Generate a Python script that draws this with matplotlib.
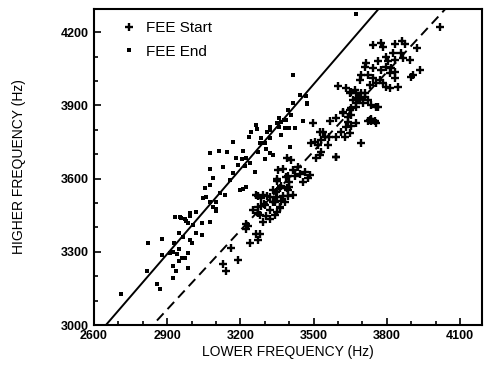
import matplotlib.pyplot as plt
import numpy as np

plt.rcParams['font.family'] = ['Liberation Sans', 'DejaVu Sans']

# FEE End (squares): lower frequency, higher frequency (Hz)
end_x = np.array([2713, 2822, 2877, 2816, 2859, 2870, 2931, 2955, 2993, 3020, 2976, 2986, 3006,
                  3041, 3077, 2949, 2965, 3020, 3041, 2993, 3000, 2927, 2922, 2911, 2881, 2949,
                  2940, 2959, 2986, 2972, 2949, 2922, 2936, 2986, 2922, 3102, 3075,
                  3266, 3268, 3320, 3348, 3380, 3382, 3236, 3170, 3286, 3279, 3300, 3307, 3273,
                  3320, 3300, 3077, 3111, 3146, 3211, 3184, 3205, 3225, 3238, 3191, 3219, 3130,
                  3075, 3259, 3170, 3157, 3088, 3075, 3057, 3059, 3046, 3116, 3136, 3225, 3211,
                  3102, 3088, 3102, 3020, 2993, 2952, 2972, 3198,
                  3416, 3443, 3468, 3473, 3416, 3395, 3409, 3386, 3359, 3368, 3457, 3422, 3398,
                  3357, 3320, 3308, 3320, 3368, 3402, 3288, 3245, 3672, 3474, 3334])
end_y = np.array([3126, 3335, 3351, 3221, 3168, 3146, 3444, 3437, 3448, 3465, 3428, 3417, 3410,
                  3419, 3421, 3378, 3362, 3376, 3369, 3348, 3337, 3335, 3300, 3294, 3287, 3310,
                  3290, 3277, 3297, 3273, 3262, 3242, 3221, 3236, 3194, 3474, 3505,
                  3820, 3802, 3813, 3826, 3840, 3806, 3772, 3748, 3765, 3745, 3745, 3720, 3710,
                  3703, 3679, 3707, 3714, 3710, 3714, 3683, 3680, 3683, 3663, 3656, 3650, 3649,
                  3638, 3628, 3622, 3594, 3601, 3574, 3560, 3523, 3520, 3542, 3533, 3567, 3556,
                  3505, 3482, 3469, 3465, 3458, 3441, 3436, 3553,
                  4024, 3943, 3939, 3908, 3911, 3881, 3861, 3840, 3850, 3830, 3837, 3806, 3806,
                  3810, 3799, 3790, 3765, 3780, 3731, 3745, 3790, 4273, 3904, 3697])

# FEE Start (pluses)
start_x = np.array([3140, 3127, 3191, 3160, 3241, 3273, 3266, 3280, 3222, 3232, 3222, 3293, 3320,
                    3306, 3350, 3361, 3273, 3286, 3295, 3273, 3293, 3308, 3345, 3350, 3365, 3365,
                    3391, 3400, 3395, 3350, 3333,
                    3375, 3386, 3400, 3395, 3416, 3375, 3416, 3436, 3423, 3443, 3463, 3477, 3484,
                    3457, 3389, 3409, 3525, 3511, 3532, 3518, 3491, 3507, 3532, 3559, 3593, 3545,
                    3565, 3593, 3627, 3648, 3525, 3539, 3614, 3634, 3675, 3641, 3655, 3497, 3566,
                    3593, 3620, 3654, 3654, 3675, 3696, 3737, 3757, 3724, 3757, 3675, 3689, 3709,
                    3648,
                    3743, 3777, 3784, 3832, 3863, 3873, 3923, 4016, 3825, 3859, 3798, 3764, 3805,
                    3832, 3866, 3896, 3716, 3710, 3743, 3777, 3798, 3818, 3835, 3934, 3696, 3723,
                    3743, 3770, 3784, 3757, 3798, 3811, 3832, 3846, 3907, 3811, 3689, 3730, 3634,
                    3655, 3668, 3696, 3709, 3723, 3682, 3661, 3702, 3737, 3764, 3675, 3620, 3648,
                    3641, 3737, 3900, 3600, 3730, 3750, 3593,
                    3354, 3395, 3348, 3361, 3334, 3320, 3341, 3286, 3266, 3300, 3273, 3252, 3320,
                    3361, 3382, 3280, 3341])
start_y = np.array([3223, 3250, 3266, 3314, 3335, 3348, 3373, 3375, 3392, 3406, 3415, 3424, 3433,
                    3445, 3465, 3478, 3458, 3488, 3495, 3529, 3535, 3530, 3546, 3525, 3510, 3570,
                    3560, 3585, 3529, 3590, 3505,
                    3638, 3605, 3567, 3555, 3533, 3530, 3635, 3649, 3610, 3620, 3629, 3602, 3615,
                    3585, 3683, 3677, 3697, 3683, 3710, 3737, 3745, 3752, 3760, 3737, 3687, 3772,
                    3772, 3772, 3772, 3786, 3793, 3793, 3793, 3810, 3829, 3833, 3815, 3826, 3837,
                    3847, 3870, 3861, 3888, 3908, 3745, 3834, 3829, 3838, 3895, 3950, 3930, 3950,
                    3950,
                    4147, 4154, 4140, 4150, 4162, 4150, 4133, 4220, 4113, 4113, 4100, 4080, 4080,
                    4087, 4093, 4084, 4075, 4058, 4052, 4045, 4058, 4052, 4038, 4045, 4024, 4024,
                    4011, 4004, 3990, 3990, 3976, 3970, 4011, 3976, 4024, 4031, 4004, 3983, 3970,
                    3956, 3963, 3949, 3935, 3922, 3929, 3922, 3908, 3901, 3895, 3895, 3874, 3881,
                    3854, 3843, 4018, 3979, 3840, 3836, 3690,
                    3635, 3610, 3597, 3560, 3553, 3525, 3505, 3520, 3533, 3492, 3485, 3471, 3471,
                    3485, 3505, 3450, 3450])

# fitted lines (slope, intercept)
end_fit = (1.159, -70)
start_fit = (1.08, -68)

fig = plt.figure(figsize=(4.84, 3.88), dpi=100)
ax = fig.add_axes([0.194, 0.162, 0.802, 0.815])

ax.plot(start_x, start_y, '+', color='black', ms=5.8, mew=1.7, label='FEE Start')
ax.plot(end_x, end_y, 's', color='black', ms=3.2, mew=0, label='FEE End')

lx = np.array([2500, 4300])
ax.plot(lx, end_fit[0] * lx + end_fit[1], '-', color='black', lw=1.4)
ax.plot(lx, start_fit[0] * lx + start_fit[1], '--', color='black', lw=1.4, dashes=(5, 3))

ax.set_xlim(2600, 4190)
ax.set_ylim(3000, 4295)
ax.set_xticks([2600, 2900, 3200, 3500, 3800, 4100])
ax.set_yticks([3000, 3300, 3600, 3900, 4200])
ax.set_xticks(np.arange(2600, 4200, 100), minor=True)
ax.set_yticks(np.arange(3000, 4300, 100), minor=True)
ax.tick_params(which='both', direction='in', width=1.2, labelsize=9)
ax.tick_params(which='major', length=5)
ax.tick_params(which='minor', length=3)
for lab in ax.get_xticklabels() + ax.get_yticklabels():
    lab.set_fontweight('bold')
for s in ax.spines.values():
    s.set_linewidth(1.5)

ax.set_xlabel('LOWER FREQUENCY (Hz)', fontsize=10, labelpad=2)
ax.set_ylabel('HIGHER FREQUENCY (Hz)', fontsize=10, labelpad=25)

ax.legend(loc='upper left', bbox_to_anchor=(0.055, 0.98), frameon=False, fontsize=11,
          handletextpad=0.6, borderaxespad=0, labelspacing=0.6, handlelength=1.0)

fig.savefig('out.png', dpi=100)
plt.close(fig)
